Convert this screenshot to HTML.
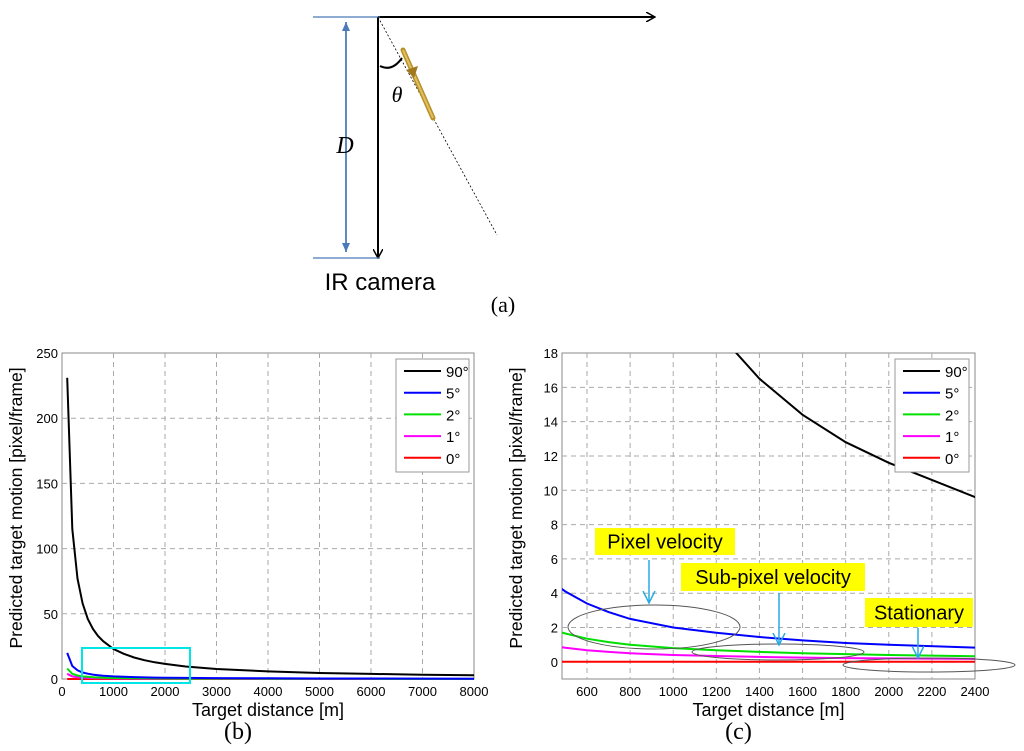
<!DOCTYPE html>
<html><head><meta charset="utf-8"><style>
body{margin:0;background:#fff;}
svg{display:block;font-family:"Liberation Sans",sans-serif;}
</style></head><body>
<svg id="root" width="1024" height="751" viewBox="0 0 1024 751">
<defs>
<marker id="ah" markerWidth="10" markerHeight="10" refX="9" refY="5" orient="auto" markerUnits="userSpaceOnUse"><path d="M0,0 L9,5 L0,10" fill="none" stroke="#000" stroke-width="1.5"/></marker>
<marker id="bh" markerWidth="10" markerHeight="10" refX="9" refY="5" orient="auto" markerUnits="userSpaceOnUse"><path d="M0,1 L9,5 L0,9 Z" fill="#4a7ab8"/></marker>
<marker id="ch" markerWidth="14" markerHeight="14" refX="12" refY="7" orient="auto" markerUnits="userSpaceOnUse"><path d="M0,1 L12,7 L0,13" fill="none" stroke="#29abe2" stroke-width="1.5"/></marker>
<clipPath id="clipc"><rect x="562" y="353" width="413" height="326"/></clipPath>
</defs>
<g>
<line x1="378" y1="17" x2="378" y2="258" stroke="#000" stroke-width="2" marker-end="url(#ah)"/>
<line x1="378" y1="17" x2="655" y2="17" stroke="#000" stroke-width="2" marker-end="url(#ah)"/>
<line x1="313" y1="17" x2="380" y2="17" stroke="#4a7ab8" stroke-width="1.2"/>
<line x1="313" y1="258" x2="380" y2="258" stroke="#4a7ab8" stroke-width="1.2"/>
<line x1="346" y1="22" x2="346" y2="252" stroke="#4a7ab8" stroke-width="1.5" marker-end="url(#bh)"/>
<line x1="346" y1="252" x2="346" y2="22" stroke="#4a7ab8" stroke-width="1.5" marker-end="url(#bh)"/>
<text x="345" y="153" font-family="Liberation Serif,serif" font-style="italic" font-size="24" text-anchor="middle" fill="#000">D</text>
<line x1="378" y1="17" x2="497" y2="235" stroke="#000" stroke-width="0.8" stroke-dasharray="2,2"/>
<path d="M380,66 Q392,72 402,58" fill="none" stroke="#000" stroke-width="2"/>
<text x="397" y="102" font-family="Liberation Serif,serif" font-style="italic" font-size="22" text-anchor="middle">θ</text>
<g>
<line x1="403" y1="50" x2="433" y2="118" stroke="#b8902a" stroke-width="5" stroke-linecap="round"/>
<line x1="403" y1="50" x2="433" y2="118" stroke="#e0c060" stroke-width="2"/>
<path d="M406,70 L418,66 L414,78 Z" fill="#a07820"/>
</g>
<text x="380" y="290" font-size="24" text-anchor="middle">IR camera</text>
<text x="503" y="312" font-family="Liberation Serif,serif" font-size="22" text-anchor="middle">(a)</text>
</g>
<g id="chartb"></g>
<g id="chartc"></g>
</svg>
<script>
const distances=[100,200,300,400,500,600,700,800,1000,1200,1400,1600,1800,2000,2400,3000,4000,5000,6000,7000,8000];
const s90=[231,115,77,58,46,38.5,33,29,23,19.3,16.5,14.4,12.8,11.6,9.6,7.7,5.8,4.6,3.9,3.3,2.9];
const s5=[20,10,6.7,5,4.1,3.4,2.9,2.5,2.0,1.7,1.45,1.25,1.1,1.0,0.83,0.7,0.5,0.4,0.35,0.3,0.25];
const s2=[8,4,2.7,2,1.65,1.35,1.15,1.0,0.8,0.68,0.58,0.5,0.45,0.4,0.33,0.27,0.2,0.16,0.13,0.11,0.1];
const s1=[4,2,1.35,1,0.82,0.68,0.58,0.5,0.4,0.34,0.29,0.25,0.22,0.2,0.17,0.14,0.1,0.08,0.07,0.06,0.05];
const s0=[0,0,0,0,0,0,0,0,0,0,0,0,0,0,0,0,0,0,0,0,0];
const seriesNames=["90°","5°","2°","1°","0°"];
const xTicksB=[0,1000,2000,3000,4000,5000,6000,7000,8000];
const yTicksB=[0,50,100,150,200,250];
const xTicksC=[600,800,1000,1200,1400,1600,1800,2000,2200,2400];
const yTicksC=[0,2,4,6,8,10,12,14,16,18];
const allSeries=[s90,s5,s2,s1,s0];
const colors=["#000","#0000ff","#00e000","#ff00ff","#ff0000"];
const NS="http://www.w3.org/2000/svg";
function mk(tag,attrs,parent){const e=document.createElementNS(NS,tag);for(const k in attrs)e.setAttribute(k,attrs[k]);parent.appendChild(e);return e;}
function chart(g,o){
 const sx=v=>o.x0+(v-o.xmin)/(o.xmax-o.xmin)*(o.x1-o.x0);
 const sy=v=>o.y1-(v-o.ymin)/(o.ymax-o.ymin)*(o.y1-o.y0);
 mk('rect',{x:o.x0,y:o.y0,width:o.x1-o.x0,height:o.y1-o.y0,fill:'#fff',stroke:'#888','stroke-width':1},g);
 o.xt.forEach(t=>{const x=sx(t);
  if(x>o.x0+1&&x<o.x1-1){const l=mk('line',{x1:x,x2:x,y1:o.y0,y2:o.y1,stroke:'#aaa','stroke-dasharray':'5,4'},g);
  
  }
  const t2=mk('text',{x:x,y:o.y1+17,'font-size':13,'text-anchor':'middle'},g);t2.textContent=t;
  
  });
 o.yt.forEach(t=>{const y=sy(t);
  if(y>o.y0+1&&y<o.y1-1){const l=mk('line',{x1:o.x0,x2:o.x1,y1:y,y2:y,stroke:'#aaa','stroke-dasharray':'5,4'},g);
  
  }
  const t2=mk('text',{x:o.x0-4,y:y+5,'font-size':13,'text-anchor':'end'},g);t2.textContent=t;
  
  });
 const lg=mk('g',{'clip-path':o.clip||''},g);
 for(let i=allSeries.length-1;i>=0;i--){
  const d=distances.map((v,j)=>(j?'L':'M')+sx(v).toFixed(1)+','+sy(allSeries[i][j]).toFixed(1)).join(' ');
  const p=mk('path',{d:d,fill:'none',stroke:colors[i],'stroke-width':2},lg);
  
  
 }
 const L=o.leg;
 const lb=mk('rect',{x:L[0],y:L[1],width:L[2],height:L[3],fill:'#fff',stroke:'#999'},g);
 
 
 seriesNames.forEach((n,i)=>{const y=L[1]+12+i*21.7;
  mk('line',{x1:L[0]+8,x2:L[0]+45,y1:y,y2:y,stroke:colors[i],'stroke-width':2},g);
  const t=mk('text',{x:L[0]+50,y:y+6,'font-size':15},g);t.textContent=n;
  
  });
 const xt=mk('text',{x:(o.x0+o.x1)/2,y:o.y1+37,'font-size':18,'text-anchor':'middle'},g);xt.textContent='Target distance [m]';
 
 
 const yx=o.x0-40,yy=(o.y0+o.y1)/2-8;
 const yt=mk('text',{x:yx,y:yy,'font-size':17.5,'text-anchor':'middle',transform:`rotate(-90 ${yx} ${yy})`},g);yt.textContent='Predicted target motion [pixel/frame]';
 
 
 const cp=mk('text',{x:(o.x0+o.x1)/2-30,y:o.y1+60,'font-size':24,'font-family':'Liberation Serif,serif','text-anchor':'middle'},g);cp.textContent=o.cap;
 
 
 return {sx,sy};
}
const gb=document.getElementById('chartb');
chart(gb,{x0:62,x1:474,y0:353,y1:679,xmin:0,xmax:8000,ymin:0,ymax:250,xt:xTicksB,yt:yTicksB,leg:[396,359,73,113],cap:'(b)'});
const zb=mk('rect',{x:82,y:648,width:108,height:35,fill:'none',stroke:'#00e5e5','stroke-width':2},gb);


const gc=document.getElementById('chartc');
chart(gc,{x0:562,x1:975,y0:353,y1:679,xmin:484,xmax:2400,ymin:-1,ymax:18,xt:xTicksC,yt:yTicksC,leg:[895,359,74,113],cap:'(c)',clip:'url(#clipc)'});
const ann=[["Pixel velocity",595,528,140,27,649,560,603,654,627,86,22],["Sub-pixel velocity",681,563,184,28,779,593,645,778,652,86,8],["Stationary",865,598,108,29,918,628,658,929,665,86,7]];
ann.forEach(a=>{
 const e=mk('ellipse',{cx:a[8],cy:a[9],rx:a[10],ry:a[11],fill:'none',stroke:'#555','stroke-width':1},gc);
 
 
 mk('rect',{x:a[1],y:a[2],width:a[3],height:a[4],fill:'#ffff00'},gc);
 const t=mk('text',{x:a[1]+a[3]/2,y:a[2]+a[4]/2+7,'font-size':20,'text-anchor':'middle'},gc);t.textContent=a[0];
 
 
 const ar=mk('line',{x1:a[5],x2:a[5],y1:a[6],y2:a[7],stroke:'#29abe2','stroke-width':1.5,'marker-end':'url(#ch)'},gc);
 
 
});
</script>
</body></html>
